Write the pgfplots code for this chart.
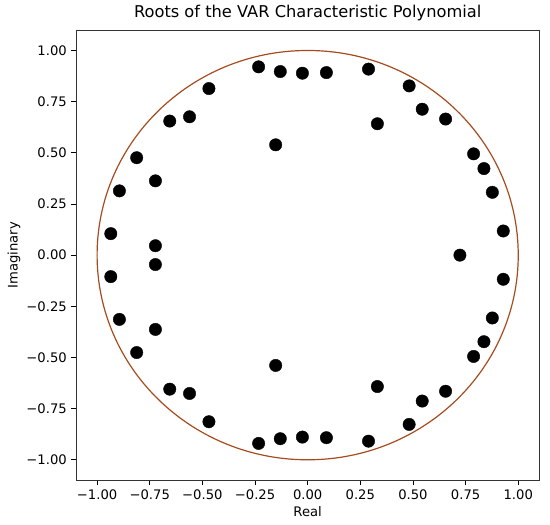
\documentclass[border=0pt]{standalone}
\usepackage{pgfplots}
\pgfplotsset{compat=1.18}
\usepackage{fontspec}
\setmainfont{DejaVu Sans}
\definecolor{circ}{RGB}{165,75,30}
\begin{document}
\fontsize{13.2}{16}\selectfont
\begin{tikzpicture}
\begin{axis}[
  scale only axis,
  width=463bp, height=450bp,
  xmin=-1.1, xmax=1.1, ymin=-1.1, ymax=1.1,
  xtick={-1,-0.75,-0.5,-0.25,0,0.25,0.5,0.75,1},
  ytick={-1,-0.75,-0.5,-0.25,0,0.25,0.5,0.75,1},
  xticklabels={−1.00,−0.75,−0.50,−0.25,0.00,0.25,0.50,0.75,1.00},
  yticklabels={−1.00,−0.75,−0.50,−0.25,0.00,0.25,0.50,0.75,1.00},
  tick align=outside, tick pos=left,
  major tick length=4.7bp,
  tick style={black, line width=0.8pt},
  axis line style={black!80, line width=1pt},
  ticklabel style={font=\fontsize{13.2}{16}\selectfont},
  title={Roots of the VAR Characteristic Polynomial},
  title style={font=\fontsize{16.3}{19}\selectfont, yshift=-1bp},
  xlabel={Real}, ylabel={Imaginary},
  label style={font=\fontsize{13.2}{16}\selectfont},
  xlabel style={yshift=2bp},
  ylabel style={yshift=-3bp},
  clip=false,
]
\draw[circ, line width=1.2pt] (axis cs:0,0) ellipse [x radius=1, y radius=1];
\addplot[only marks, mark=*, mark size=6.2bp, black] table {
x y
-0.233 0.920
-0.130 0.897
-0.025 0.889
0.089 0.892
0.289 0.909
-0.469 0.814
0.482 0.827
-0.561 0.676
-0.655 0.655
0.544 0.713
0.655 0.665
0.331 0.642
-0.152 0.539
-0.812 0.476
0.788 0.495
0.837 0.423
-0.723 0.363
-0.894 0.314
0.877 0.307
-0.935 0.105
0.929 0.118
-0.723 0.046
0.723 0.000
-0.723 -0.046
-0.935 -0.105
0.929 -0.118
-0.894 -0.314
0.877 -0.307
-0.723 -0.363
-0.812 -0.476
0.788 -0.495
0.837 -0.423
-0.152 -0.539
0.331 -0.642
-0.655 -0.655
-0.561 -0.676
0.544 -0.713
0.655 -0.665
-0.469 -0.814
0.482 -0.827
-0.233 -0.920
-0.130 -0.897
-0.025 -0.889
0.089 -0.892
0.289 -0.909
};
\end{axis}
\path ([xshift=-76bp,yshift=-44bp]current axis.south west) rectangle ([xshift=10.7bp,yshift=30bp]current axis.north east);
\end{tikzpicture}
\end{document}
